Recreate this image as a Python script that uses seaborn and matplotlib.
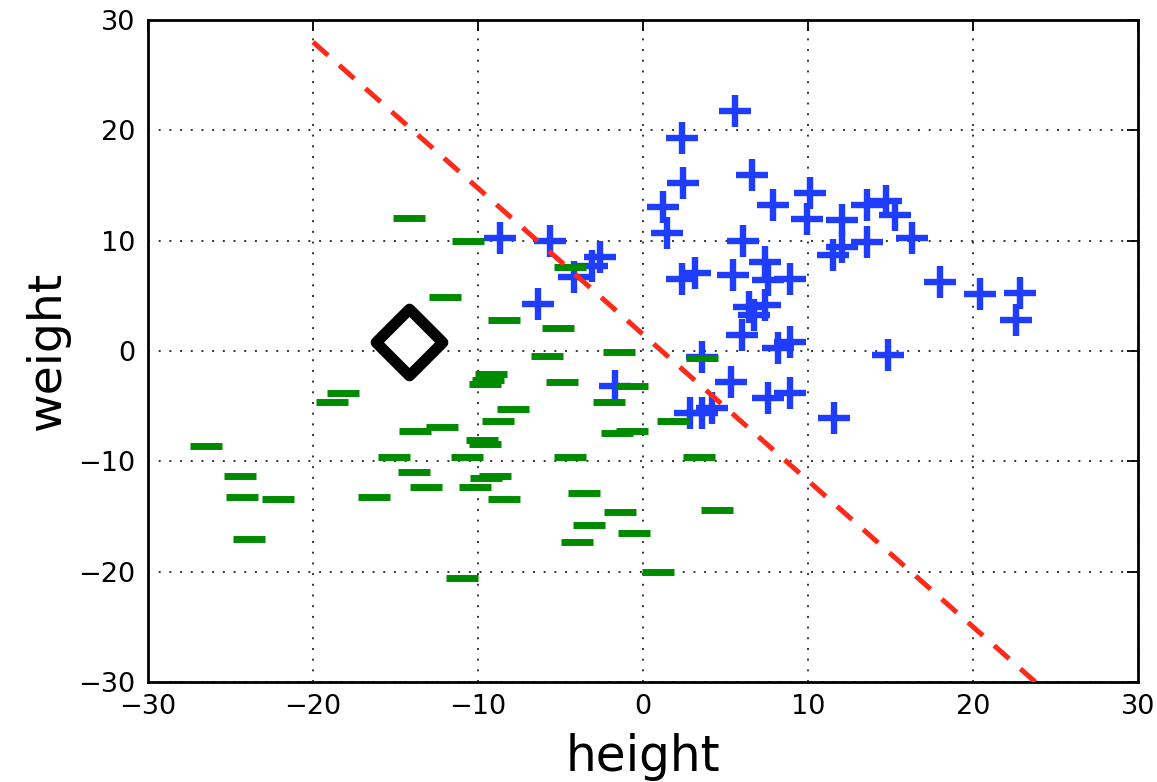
import numpy as np
import pandas as pd
import matplotlib
matplotlib.use("Agg")
import matplotlib.pyplot as plt
import seaborn as sns

# class 1 (green "_" markers)
green_x = [-14.2, -10.6, -12.0, -8.4, -5.15, -5.8, -1.45, -4.4, -4.9, -0.7,
           -2.05, -7.9, -8.8, -9.2, -9.4, -9.6, -18.2, -18.85, -26.5, -13.8,
           -12.2, -9.75, -9.6, -15.1, -10.7, -13.9, -9.5, -9.0, -13.15, -10.2,
           -24.4, -24.3, -22.1, -16.3, -8.4, -23.9, -11.0, 1.8, -1.6, -0.65,
           3.6, -4.4, 3.4, -3.6, -1.4, -3.3, -0.55, -4.0, 4.5, 0.9]
green_y = [12.1, 10.0, 4.9, 2.8, 2.1, -0.45, -0.1, 7.6, -2.8, -3.2,
           -4.6, -5.3, -6.3, -2.1, -2.6, -3.0, -3.8, -4.6, -8.6, -7.25,
           -6.9, -8.1, -8.4, -9.6, -9.6, -11.0, -11.5, -11.3, -12.3, -12.3,
           -11.3, -13.2, -13.4, -13.2, -13.4, -17.0, -20.6, -6.3, -7.4, -7.25,
           -0.65, -9.6, -9.6, -12.9, -14.6, -15.8, -16.5, -17.3, -14.4, -20.0]

# class 2 (blue "+" markers)
blue_x = [5.6, 2.35, 2.4, 6.6, 1.2, 1.45, 7.9, 10.1, 9.95, 12.05,
          13.6, 14.7, 15.3, 11.5, 12.05, 13.6, 16.3, 18.0, 20.4, 22.85,
          22.6, 14.85, 11.6, 6.05, 7.4, 5.45, 7.6, 8.9, 6.4, 7.4,
          6.7, 6.0, 8.2, 8.9, 5.3, 7.6, 8.9, 2.85, 3.6, 4.2,
          3.6, 2.35, 3.15, -8.65, -5.65, -2.6, -3.1, -4.2, -6.35, -1.7]
blue_y = [21.75, 19.3, 15.2, 15.95, 13.05, 10.7, 13.2, 14.3, 12.0, 11.9,
          13.2, 13.6, 12.3, 8.7, 9.4, 9.9, 10.2, 6.25, 5.15, 5.3,
          2.8, -0.4, -6.1, 9.95, 8.05, 6.9, 6.4, 6.5, 4.0, 4.2,
          3.3, 1.45, 0.25, 0.8, -2.8, -4.3, -3.8, -5.6, -5.6, -5.2,
          -0.5, 6.5, 7.1, 10.2, 10.0, 8.5, 7.7, 6.7, 4.3, -3.2]

# query point
query_x = [-14.2]
query_y = [0.8]

# separating line y = intercept + slope * x
line_slope = -1.325
line_intercept = 1.5
line_x = np.array([-20.0, 24.0])
line_y = line_intercept + line_slope * line_x

sns.set_theme(style="white")
plt.rcParams['font.family'] = ['DejaVu Sans']
plt.rcParams.update({
    "xtick.direction": "in", "ytick.direction": "in",
    "xtick.top": True, "ytick.right": True,
    "xtick.major.size": 8, "ytick.major.size": 8,
    "xtick.major.width": 1.3, "ytick.major.width": 1.3,
    "xtick.color": "black", "ytick.color": "black",
    "axes.edgecolor": "black", "axes.linewidth": 2.0,
    "axes.labelcolor": "black", "text.color": "black",
})

fig, ax = plt.subplots(figsize=(11.57, 7.82), dpi=100)
fig.subplots_adjust(left=0.128, right=0.9836, top=0.9744, bottom=0.1279)

sns.scatterplot(x=blue_x, y=blue_y, marker="+", s=560, color="#1f3dff",
                linewidth=4.6, ax=ax, zorder=3)
sns.scatterplot(x=green_x, y=green_y, marker="_", s=500, color="#008a00",
                linewidth=5.0, ax=ax, zorder=4)
sns.lineplot(x=line_x, y=line_y, color="#ff2a1a", linewidth=3.6,
             linestyle=(0, (4, 3)), sort=False, ax=ax, zorder=5)
sns.scatterplot(x=query_x, y=query_y, marker="D", s=1150, color="white",
                edgecolor="black", linewidth=8, ax=ax, zorder=6)

ax.set_xlim(-30, 30)
ax.set_ylim(-30, 30)
ax.set_xticks(np.arange(-30, 31, 10))
ax.set_yticks(np.arange(-30, 31, 10))
ax.grid(True, color="black", linestyle=(0, (1, 4.5)), linewidth=1.4, alpha=0.8)
ax.tick_params(labelsize=19.5, pad=9)
ax.set_xlabel("height", fontsize=35, labelpad=9)
ax.set_ylabel("weight", fontsize=34, labelpad=6)

fig.savefig("out.png", dpi=100)
